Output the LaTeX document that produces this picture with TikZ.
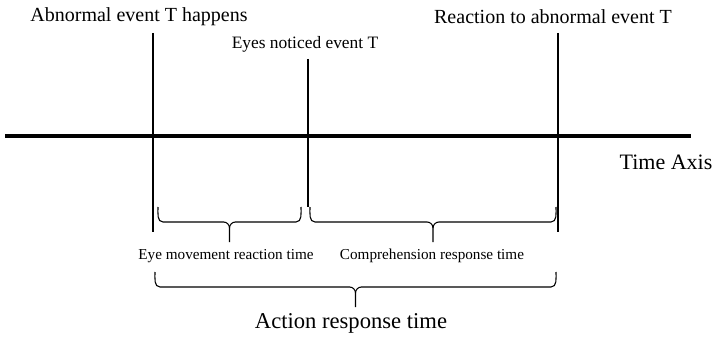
\documentclass[tikz,border=0pt]{standalone}
\usepackage{fontspec}
\setmainfont{Liberation Serif}
\usetikzlibrary{positioning,calc}

% brace under a time span: left x, right x, top y
\newcommand{\timebrace}[3]{%
  \pgfmathsetmacro{\bmid}{0.5*#1+0.5*#2}
  \draw[brc] (#1,#3) to[out=-90,in=180] ({#1+5},{#3+15}) -- ({\bmid-6},{#3+15})
    to[out=0,in=90] ({\bmid},{#3+21}) -- ({\bmid},{#3+35});
  \draw[brc] (#2,#3) to[out=-90,in=0] ({#2-5},{#3+15}) -- ({\bmid+6},{#3+15})
    to[out=180,in=90] ({\bmid},{#3+21});
}

\begin{document}
\begin{tikzpicture}[x=1pt,y=-1pt,
    marker/.style={line width=1.6pt},
    brc/.style={line width=1.1pt, line join=round},
    lbl/.style={inner sep=0pt}]
    \useasboundingbox (0,0) rectangle (716,337);

    % time axis
    \coordinate (axL) at (5,136);
    \coordinate (axR) at (691,136);
    \draw[line width=3.5pt] (axL) -- (axR);
    \node[lbl, font=\fontsize{22}{26}\selectfont] (tax) at (666,162) {Time Axis};

    % event markers
    \coordinate (evAtop) at (153,33);  \coordinate (evAbot) at (153,232);
    \coordinate (evBtop) at (308,59);  \coordinate (evBbot) at (308,207);
    \coordinate (evCtop) at (558,33);  \coordinate (evCbot) at (558,232);
    \draw[marker] (evAtop) -- (evAbot);
    \draw[marker] (evBtop) -- (evBbot);
    \draw[marker] (evCtop) -- (evCbot);

    \node[lbl, font=\fontsize{20}{24}\selectfont] (evA) at (139,17) {Abnormal event T happens};
    \node[lbl, font=\fontsize{17.4}{21}\selectfont] (evB) at (305,44) {Eyes noticed event T};
    \node[lbl, font=\fontsize{20}{24}\selectfont] (evC) at (553,17) {Reaction to abnormal event T};

    % spans
    \timebrace{158}{301}{207}
    \timebrace{310}{556}{207}
    \timebrace{155}{556}{272}

    \node[lbl, font=\fontsize{15.2}{18}\selectfont] (eyeT) at (226,256) {Eye movement reaction time};
    \node[lbl, font=\fontsize{15.2}{18}\selectfont] (compT) at (432,256) {Comprehension response time};
    \node[lbl, font=\fontsize{22.6}{27}\selectfont] (actT) at (351,323) {Action response time};
\end{tikzpicture}
\end{document}
